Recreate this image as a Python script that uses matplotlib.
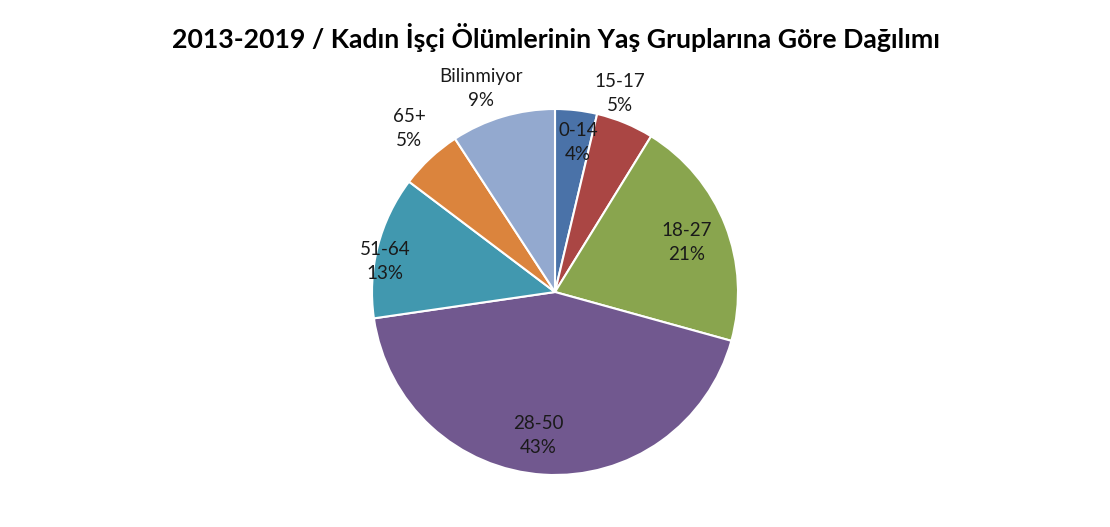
import matplotlib
matplotlib.use("Agg")
import matplotlib.pyplot as plt
import numpy as np

title = "2013-2019 / Kadın İşçi Ölümlerinin Yaş Gruplarına Göre Dağılımı"
categories = ["0-14", "15-17", "18-27", "28-50", "51-64", "65+", "Bilinmiyor"]
values = [3.7, 5.1, 20.5, 43.4, 12.6, 5.5, 9.2]
pct_labels = ["4%", "5%", "21%", "43%", "13%", "5%", "9%"]
colors = ["#4A72A8", "#AA4644", "#89A54E", "#71588F", "#4198AF", "#DB843D", "#93A9CF"]
# radial distance (fraction of radius) and small angle shift (deg) for each label
label_dist = [0.824, 1.139, 0.77, 0.787, 0.945, 1.196, 1.184]
label_shift = [-2.1, 4.3, -1.0, -3.2, 4.1, -1.2, 3.5]

W, H = 1110, 527
fig = plt.figure(figsize=(W / 100, H / 100), dpi=100)
ax = fig.add_axes([0, 0, 1, 1])

cx, cy, R = 555, H - 292, 183
wedges, _ = ax.pie(values, colors=colors, startangle=90, counterclock=False,
                   center=(cx, cy), radius=R, frame=True,
                   wedgeprops=dict(edgecolor="white", linewidth=1.5))
ax.set_xlim(0, W)
ax.set_ylim(0, H)
ax.axis("off")

font = "Lato"
for w, cat, p, d, s in zip(wedges, categories, pct_labels, label_dist, label_shift):
    ang = np.deg2rad((w.theta1 + w.theta2) / 2 + s)
    x = cx + d * R * np.cos(ang)
    y = cy + d * R * np.sin(ang)
    ax.text(x, y, f"{cat}\n{p}", ha="center", va="center", fontsize=13.5,
            family=font, color="#1a1a1a", linespacing=1.5)

fig.text(556 / W, 1 - 38 / H, title, ha="center", va="center", fontsize=19.2,
         fontweight="bold", family=font, color="black")

fig.savefig("out.png", dpi=100, facecolor="white")
